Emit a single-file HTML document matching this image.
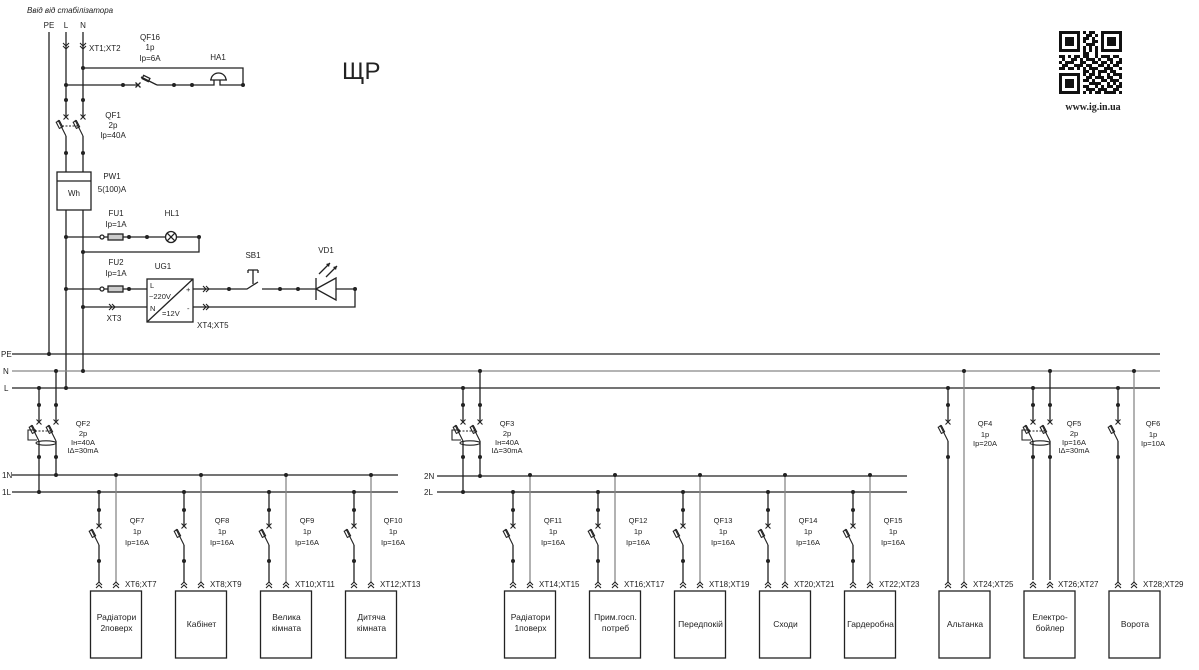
<!DOCTYPE html>
<html><head><meta charset="utf-8"><style>
html,body{margin:0;padding:0;background:#fff;}
svg{display:block;}
text{font-family:"Liberation Sans",sans-serif;font-size:8px;fill:#222;}
.c{text-anchor:middle;}
.s{font-size:7.5px;}
.b{font-size:8.5px;}
</style></head><body>
<svg width="1199" height="670" viewBox="0 0 1199 670" xmlns="http://www.w3.org/2000/svg">
<defs>
<g id="chu" fill="none" stroke="#222" stroke-width="1.1"><polyline points="-3,2 0,-1 3,2"/><polyline points="-3,5 0,2 3,5"/></g>
<g id="chd" fill="none" stroke="#222" stroke-width="1.1"><polyline points="-3,-2 0,1 3,-2"/><polyline points="-3,-5 0,-2 3,-5"/></g>
<g id="chr" fill="none" stroke="#222" stroke-width="1.1"><polyline points="-1,-3 2,0 -1,3"/><polyline points="-4,-3 -1,0 -4,3"/></g>
<g id="pole" fill="none" stroke="#222" stroke-width="1.1">
 <path d="M-2.5,-2.5L2.5,2.5M-2.5,2.5L2.5,-2.5"/>
 <path d="M0,19L-8,3"/>
 <rect x="-1.8" y="-3.5" width="3.6" height="7" transform="translate(-6.6,7.5) rotate(-27)"/>
</g>
<g id="br">
 <path d="M0,0V34M0,53V90" stroke="#222" stroke-width="1.3" fill="none"/>
 <path d="M17,-17V90" stroke="#888" stroke-width="1.3" fill="none"/>
 <use href="#pole" x="0" y="34"/>
 <use href="#chu" x="0" y="91"/><use href="#chu" x="17" y="91"/>
 <rect x="-8.5" y="99" width="51" height="67" fill="none" stroke="#222" stroke-width="1.3"/>
 <g fill="#222"><circle cx="0" cy="0" r="2"/><circle cx="0" cy="18" r="2"/><circle cx="0" cy="69" r="2"/><circle cx="17" cy="-17" r="2"/></g>
</g>
<g id="brR">
 <path d="M0,0V34M0,53V194" stroke="#222" stroke-width="1.3" fill="none"/>
 <path d="M16,-17V194" stroke="#888" stroke-width="1.3" fill="none"/>
 <use href="#pole" x="0" y="34"/>
 <use href="#chu" x="0" y="195"/><use href="#chu" x="16" y="195"/>
 <rect x="-9" y="203" width="51" height="67" fill="none" stroke="#222" stroke-width="1.3"/>
 <g fill="#222"><circle cx="0" cy="0" r="2"/><circle cx="0" cy="17" r="2"/><circle cx="0" cy="69" r="2"/><circle cx="16" cy="-17" r="2"/></g>
</g>
<g id="rcd">
 <path d="M0,0V34M17,-17V34M0,53V69M17,53V69" stroke="#222" stroke-width="1.3" fill="none"/>
 <use href="#pole" x="0" y="34"/><use href="#pole" x="17" y="34"/>
 <path d="M-4,43H13" stroke="#222" stroke-width="1" stroke-dasharray="2,1.5"/>
 <path d="M-3,42H-11V52H-2" fill="none" stroke="#222" stroke-width="1.1"/>
 <ellipse cx="7" cy="55" rx="10" ry="2.2" fill="none" stroke="#222" stroke-width="1.1"/>
 <g fill="#222"><circle cx="0" cy="0" r="2"/><circle cx="0" cy="17" r="2"/><circle cx="17" cy="-17" r="2"/><circle cx="17" cy="17" r="2"/><circle cx="0" cy="69" r="2"/><circle cx="17" cy="69" r="2"/></g>
</g>
</defs>

<rect width="1199" height="670" fill="#fff"/>

<text x="27" y="13" style="font-style:italic">Ввід від стабілізатора</text>
<text class="c" x="49" y="28">PE</text>
<text class="c" x="66" y="28">L</text>
<text class="c" x="83" y="28">N</text>
<text x="89" y="51">XT1;XT2</text>
<text x="342" y="79" style="font-size:24px">ЩР</text>

<g stroke="#222" stroke-width="1.3" fill="none">
 <path d="M49,32V354"/>
 <path d="M66,32V117M83,32V117"/>
 <path d="M66,136V172M83,136V172"/>
 <path d="M66,210V388M83,210V371"/>
 <path d="M66,85H138M157,85H214V80M220,80V85H243V68H83"/>
 <path d="M157,85L141,77"/>
 <rect x="-3.5" y="-1.8" width="7" height="3.6" transform="translate(146,78.5) rotate(26.6)"/>
 <path d="M135.5,82.5L140.5,87.5M135.5,87.5L140.5,82.5"/>
 <path d="M210,80H227M211,80A7.5,7 0 0 1 226,80"/>
 <path d="M62,126H79" stroke-dasharray="2,1.5" stroke-width="1"/>
 <rect x="57" y="172" width="34" height="38"/>
 <path d="M57,181H91"/>
 <path d="M66,237H100M104,237H108M123,237H165.5M176.5,237H199V252H83"/>
 <circle cx="102" cy="237" r="2"/>
 <rect x="108" y="234" width="15" height="6" fill="#ccc"/>
 <circle cx="171" cy="237" r="5.5"/>
 <path d="M167.1,233.1L174.9,240.9M167.1,240.9L174.9,233.1"/>
 <path d="M66,289H100M104,289H108M123,289H147"/>
 <circle cx="102" cy="289" r="2"/>
 <rect x="108" y="286" width="15" height="6" fill="#ccc"/>
 <path d="M83,307H147"/>
 <rect x="147" y="279" width="46" height="43"/>
 <path d="M147,322L193,279"/>
 <path d="M193,289H247L258,282M262,289H316M336,289H355V307H193"/>
 <path d="M248,270H258M253,270V284" />
 <path d="M248,270V273M258,270V273"/>
 <path d="M316,278V300"/>
 <path d="M316,289L336,278V300Z"/>
 <path d="M319,274L330,263M326,277L337,266"/>
</g>
<g fill="#222">
 <path d="M330,263l-4,1 3,3z M337,266l-4,1 3,3z"/>
</g>
<use href="#chd" x="66" y="48"/><use href="#chd" x="83" y="48"/>
<use href="#pole" x="66" y="117"/><use href="#pole" x="83" y="117"/>
<use href="#chr" x="113" y="307"/>
<use href="#chr" x="207" y="289"/><use href="#chr" x="207" y="307"/>
<g fill="#222">
 <circle cx="83" cy="68" r="2"/><circle cx="66" cy="85" r="2"/><circle cx="123" cy="85" r="2"/>
 <circle cx="174" cy="85" r="2"/><circle cx="192" cy="85" r="2"/><circle cx="243" cy="85" r="2"/>
 <circle cx="66" cy="100" r="2"/><circle cx="83" cy="100" r="2"/>
 <circle cx="66" cy="153" r="2"/><circle cx="83" cy="153" r="2"/>
 <circle cx="66" cy="237" r="2"/><circle cx="129" cy="237" r="2"/><circle cx="147" cy="237" r="2"/><circle cx="199" cy="237" r="2"/><circle cx="83" cy="252" r="2"/>
 <circle cx="66" cy="289" r="2"/><circle cx="129" cy="289" r="2"/><circle cx="83" cy="307" r="2"/>
 <circle cx="229" cy="289" r="2"/><circle cx="280" cy="289" r="2"/><circle cx="298" cy="289" r="2"/><circle cx="355" cy="289" r="2"/>
</g>

<text class="c" x="150" y="40">QF16</text>
<text class="c" x="150" y="50">1p</text>
<text class="c" x="150" y="61">Ip=6A</text>
<text class="c" x="218" y="60">HA1</text>
<text class="c" x="113" y="118">QF1</text>
<text class="c" x="113" y="128">2p</text>
<text class="c" x="113" y="138">Ip=40A</text>
<text class="c" x="112" y="179">PW1</text>
<text class="c" x="112" y="192">5(100)A</text>
<text class="c" x="74" y="196">Wh</text>
<text class="c" x="116" y="216">FU1</text>
<text class="c" x="116" y="227">Ip=1A</text>
<text class="c" x="172" y="216">HL1</text>
<text class="c" x="116" y="265">FU2</text>
<text class="c" x="116" y="276">Ip=1A</text>
<text class="c" x="163" y="269">UG1</text>
<text class="c" x="253" y="258">SB1</text>
<text class="c" x="326" y="253">VD1</text>
<text class="c" x="114" y="321">XT3</text>
<text x="197" y="328">XT4;XT5</text>
<text class="s" x="150" y="288">L</text>
<text class="s" x="149" y="299">~220V</text>
<text class="s" x="150" y="311">N</text>
<text class="s" x="162" y="316">=12V</text>
<text class="s" x="186" y="292">+</text>
<text class="s" x="187" y="311">-</text>

<g stroke-width="1.3" fill="none">
 <path d="M12,354H1160" stroke="#222"/>
 <path d="M12,371H1160" stroke="#888"/>
 <path d="M12,388H1160" stroke="#222"/>
 <path d="M12,475H398M12,492H398" stroke="#222"/>
 <path d="M437,476H907M437,492H907" stroke="#222"/>
 <path d="M39,457V492M56,457V475M463,457V492M480,457V476" stroke="#222"/>
 <path d="M1033,457V580M1050,457V580" stroke="#222"/>
 <rect x="1024" y="591" width="51" height="67" stroke="#222" stroke-width="1.3"/>
</g>
<g fill="#222">
 <circle cx="49" cy="354" r="2"/><circle cx="83" cy="371" r="2"/><circle cx="66" cy="388" r="2"/>
 <circle cx="39" cy="492" r="2"/><circle cx="56" cy="475" r="2"/>
 <circle cx="463" cy="492" r="2"/><circle cx="480" cy="476" r="2"/>
</g>
<text x="1" y="357">PE</text>
<text x="3" y="374">N</text>
<text x="4" y="391">L</text>
<text x="2" y="478">1N</text>
<text x="2" y="495">1L</text>
<text x="424" y="479">2N</text>
<text x="424" y="495">2L</text>

<use href="#rcd" x="39" y="388"/>
<use href="#rcd" x="463" y="388"/>
<use href="#rcd" x="1033" y="388"/>
<use href="#chu" x="1033" y="583"/><use href="#chu" x="1050" y="583"/>

<text class="c s" x="83" y="426">QF2</text>
<text class="c s" x="83" y="436">2p</text>
<text class="c s" x="83" y="445">Iн=40A</text>
<text class="c s" x="83" y="453">IΔ=30mA</text>
<text class="c s" x="507" y="426">QF3</text>
<text class="c s" x="507" y="436">2p</text>
<text class="c s" x="507" y="445">Iн=40A</text>
<text class="c s" x="507" y="453">IΔ=30mA</text>
<text class="c s" x="1074" y="426">QF5</text>
<text class="c s" x="1074" y="436">2p</text>
<text class="c s" x="1074" y="445">Ip=16A</text>
<text class="c s" x="1074" y="453">IΔ=30mA</text>

<use href="#brR" x="948" y="388"/>
<use href="#brR" x="1118" y="388"/>
<text class="c s" x="985" y="426">QF4</text>
<text class="c s" x="985" y="437">1p</text>
<text class="c s" x="985" y="446">Ip=20A</text>
<text class="c s" x="1153" y="426">QF6</text>
<text class="c s" x="1153" y="437">1p</text>
<text class="c s" x="1153" y="446">Ip=10A</text>
<text x="973" y="587">XT24;XT25</text>
<text x="1058" y="587">XT26;XT27</text>
<text x="1143" y="587">XT28;XT29</text>
<text class="c b" x="965" y="627">Альтанка</text>
<text class="c b" x="1050" y="620">Електро-</text>
<text class="c b" x="1050" y="631">бойлер</text>
<text class="c b" x="1135" y="627">Ворота</text>

<use href="#br" x="99" y="492"/>
<use href="#br" x="184" y="492"/>
<use href="#br" x="269" y="492"/>
<use href="#br" x="354" y="492"/>
<use href="#br" x="513" y="492"/>
<use href="#br" x="598" y="492"/>
<use href="#br" x="683" y="492"/>
<use href="#br" x="768" y="492"/>
<use href="#br" x="853" y="492"/>

<g>
<text class="c s" x="137" y="523">QF7</text><text class="c s" x="137" y="534">1p</text><text class="c s" x="137" y="545">Ip=16A</text>
<text class="c s" x="222" y="523">QF8</text><text class="c s" x="222" y="534">1p</text><text class="c s" x="222" y="545">Ip=16A</text>
<text class="c s" x="307" y="523">QF9</text><text class="c s" x="307" y="534">1p</text><text class="c s" x="307" y="545">Ip=16A</text>
<text class="c s" x="393" y="523">QF10</text><text class="c s" x="393" y="534">1p</text><text class="c s" x="393" y="545">Ip=16A</text>
<text class="c s" x="553" y="523">QF11</text><text class="c s" x="553" y="534">1p</text><text class="c s" x="553" y="545">Ip=16A</text>
<text class="c s" x="638" y="523">QF12</text><text class="c s" x="638" y="534">1p</text><text class="c s" x="638" y="545">Ip=16A</text>
<text class="c s" x="723" y="523">QF13</text><text class="c s" x="723" y="534">1p</text><text class="c s" x="723" y="545">Ip=16A</text>
<text class="c s" x="808" y="523">QF14</text><text class="c s" x="808" y="534">1p</text><text class="c s" x="808" y="545">Ip=16A</text>
<text class="c s" x="893" y="523">QF15</text><text class="c s" x="893" y="534">1p</text><text class="c s" x="893" y="545">Ip=16A</text>

<text x="125" y="587">XT6;XT7</text>
<text x="210" y="587">XT8;XT9</text>
<text x="295" y="587">XT10;XT11</text>
<text x="380" y="587">XT12;XT13</text>
<text x="539" y="587">XT14;XT15</text>
<text x="624" y="587">XT16;XT17</text>
<text x="709" y="587">XT18;XT19</text>
<text x="794" y="587">XT20;XT21</text>
<text x="879" y="587">XT22;XT23</text>

<text class="c b" x="116.5" y="620">Радіатори</text><text class="c b" x="116.5" y="631">2поверх</text>
<text class="c b" x="201.5" y="627">Кабінет</text>
<text class="c b" x="286.5" y="620">Велика</text><text class="c b" x="286.5" y="631">кімната</text>
<text class="c b" x="371.5" y="620">Дитяча</text><text class="c b" x="371.5" y="631">кімната</text>
<text class="c b" x="530.5" y="620">Радіатори</text><text class="c b" x="530.5" y="631">1поверх</text>
<text class="c b" x="615.5" y="620">Прим.госп.</text><text class="c b" x="615.5" y="631">потреб</text>
<text class="c b" x="700.5" y="627">Передпокій</text>
<text class="c b" x="785.5" y="627">Сходи</text>
<text class="c b" x="870.5" y="627">Гардеробна</text>
</g>

<path id="qr" fill="#111" shape-rendering="crispEdges" d=""/>
<text class="c" x="1093" y="110" style="font-family:'Liberation Serif',serif;font-weight:bold;font-size:10px;">www.ig.in.ua</text>
</svg>
<script>
(function(){
var rows=["111111101011001111111","100000100110101000001","101110101101001011101","101110101001101011101","101110100111001011101","100000101010101000001","111111101010101111111","000000001100100000000","110101101100101110110","010011010111010011001","101110011001101101011","011001110110011010110","110110101011100111001","000000001101011101100","111111101011010010111","100000100110111011001","101110101101001101110","101110100011110010101","101110101100101011011","100000100111011100110","111111101010110111101"];
var d="",s=3,ox=1059,oy=31;
for(var r=0;r<rows.length;r++){var row=rows[r];var c=0;while(c<row.length){if(row[c]==="1"){var st=c;while(c<row.length&&row[c]==="1")c++;d+="M"+(ox+st*s)+","+(oy+r*s)+"h"+((c-st)*s)+"v"+s+"h-"+((c-st)*s)+"z";}else c++;}}
document.getElementById("qr").setAttribute("d",d);
})();
</script>
</body></html>
